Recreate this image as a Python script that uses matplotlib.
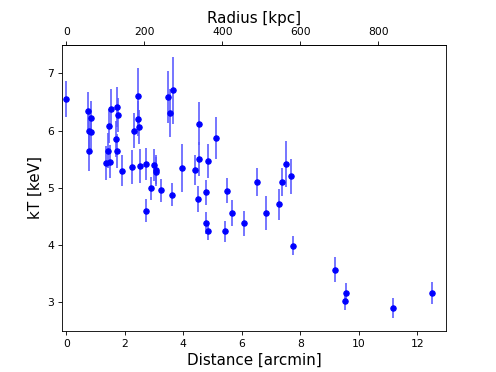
import numpy as np
import matplotlib
matplotlib.use("Agg")
import matplotlib.pyplot as plt

# ===============================================================================
# data (distance in arcmin, temperature in keV)

dist = [0.00, 0.75, 0.83, 0.77, 0.83, 0.79, 1.34, 1.44, 1.48, 1.46,
        1.54, 1.73, 1.77, 1.71, 1.73, 1.89, 2.24, 2.32, 2.45, 2.45,
        2.50, 2.52, 2.72, 2.99, 3.07, 3.06, 2.91, 2.72, 3.25, 3.63,
        3.49, 3.64, 3.54, 3.97, 4.39, 4.55, 4.55, 4.85, 5.11, 4.50,
        4.79, 4.76, 4.85, 5.43, 5.51, 5.68, 6.09, 6.52, 6.82, 7.26,
        7.39, 7.51, 7.69, 7.74, 9.20, 9.56, 9.52, 11.16, 12.52]
kT = [6.55, 6.35, 6.22, 5.99, 5.98, 5.64, 5.43, 5.65, 5.46, 6.08,
      6.38, 6.41, 6.27, 5.85, 5.64, 5.30, 5.36, 6.00, 6.60, 6.21,
      6.06, 5.38, 5.42, 5.40, 5.32, 5.28, 4.99, 4.60, 4.96, 4.88,
      6.59, 6.70, 6.31, 5.34, 5.31, 6.12, 5.50, 5.47, 5.87, 4.81,
      4.92, 4.38, 4.24, 4.24, 4.95, 4.56, 4.38, 5.10, 4.56, 4.71,
      5.10, 5.41, 5.20, 3.99, 3.57, 3.17, 3.02, 2.90, 3.17]
kT_err = [0.32, 0.32, 0.30, 0.30, 0.30, 0.34, 0.30, 0.30, 0.28, 0.30,
          0.35, 0.35, 0.30, 0.32, 0.30, 0.27, 0.30, 0.30, 0.49, 0.30,
          0.30, 0.30, 0.28, 0.28, 0.25, 0.25, 0.20, 0.20, 0.20, 0.20,
          0.45, 0.58, 0.42, 0.42, 0.26, 0.38, 0.30, 0.30, 0.37, 0.23,
          0.22, 0.19, 0.15, 0.18, 0.22, 0.22, 0.22, 0.24, 0.30, 0.27,
          0.25, 0.40, 0.30, 0.17, 0.22, 0.17, 0.15, 0.18, 0.19]

kpc_per_arcmin = 75.0
xticks = [0, 2, 4, 6, 8, 10, 12]
yticks = [3, 4, 5, 6, 7]
topticks = [0, 200, 400, 600, 800]

# ===============================================================================

fig, ax = plt.subplots(figsize=(6.4, 4.8), dpi=77.5)

ax.errorbar(dist, kT, yerr=kT_err, fmt='o', color='blue', ms=5,
            ecolor=(0.35, 0.35, 1.0), elinewidth=1.5, capsize=0)

ax.set_xlim(-0.15, 13.0)
ax.set_ylim(2.5, 7.5)
ax.set_xticks(xticks)
ax.set_yticks(yticks)
ax.set_xlabel('Distance [arcmin]', fontsize=14)
ax.set_ylabel('kT [keV]', fontsize=14)

top = ax.secondary_xaxis('top', functions=(lambda x: x * kpc_per_arcmin,
                                           lambda r: r / kpc_per_arcmin))
top.set_xticks(topticks)
top.set_xlabel('Radius [kpc]', fontsize=14)

# ===============================================================================

plt.savefig('out.png', dpi=77.5)
plt.close()
